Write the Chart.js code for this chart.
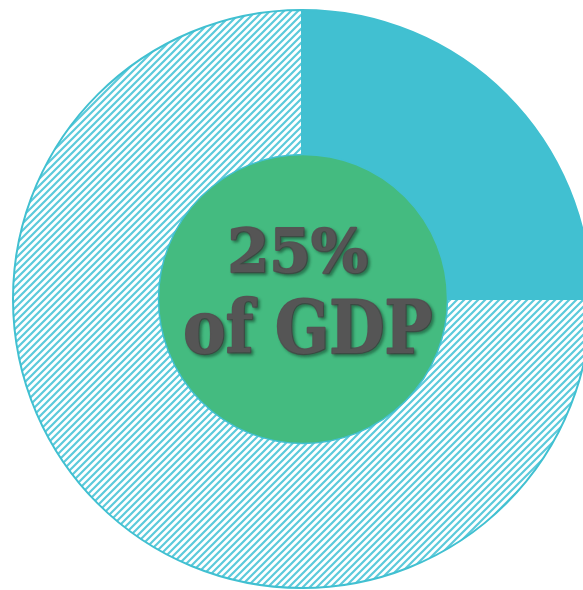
<!DOCTYPE html>
<html>
<head>
<meta charset="utf-8">
<script src="https://cdn.jsdelivr.net/npm/chart.js@4.4.1/dist/chart.umd.min.js"></script>
<style>
  html, body { margin: 0; padding: 0; background: #ffffff; overflow: hidden; }
  #wrap { position: absolute; left: 2px; top: -1px; width: 600px; height: 600px; }
</style>
</head>
<body>
<div id="wrap"><canvas id="gdp-chart" width="600" height="600"></canvas></div>
<script>
// share of GDP vs the rest
var sliceLabels = ["Share", "Rest"];
var sliceValues = [25, 75];
var centerLines = ["25%", "of GDP"];

var TEAL = "#41c0d1";
var GREEN = "#44bb80";

// diagonal hatch used for the remaining part of the pie
function makeHatch() {
  var s = 7;
  var tile = document.createElement("canvas");
  tile.width = s;
  tile.height = s;
  var c = tile.getContext("2d");
  c.fillStyle = "#ffffff";
  c.fillRect(0, 0, s, s);
  c.strokeStyle = "#5ccadb";
  c.lineWidth = 2.2;
  c.beginPath();
  c.moveTo(0, s); c.lineTo(s, 0);
  c.moveTo(-2, 2); c.lineTo(2, -2);
  c.moveTo(s - 2, s + 2); c.lineTo(s + 2, s - 2);
  c.stroke();
  return document.getElementById("gdp-chart").getContext("2d").createPattern(tile, "repeat");
}

// green disc in the middle with the headline text
var centerBadge = {
  id: "centerBadge",
  afterDatasetsDraw: function(chart) {
    var arc = chart.getDatasetMeta(0).data[0];
    var ctx = chart.ctx;
    var cx = arc.x, cy = arc.y;
    var r = arc.outerRadius * 0.5;
    ctx.save();
    ctx.beginPath();
    ctx.arc(cx + 1, cy, r, 0, Math.PI * 2);
    ctx.fillStyle = GREEN;
    ctx.fill();
    ctx.lineWidth = 1.5;
    ctx.strokeStyle = TEAL;
    ctx.stroke();

    ctx.fillStyle = "#555555";
    ctx.strokeStyle = "#555555";
    ctx.lineJoin = "round";
    ctx.lineWidth = 2.5;
    ctx.textAlign = "center";
    ctx.textBaseline = "alphabetic";
    ctx.shadowColor = "rgba(20, 60, 40, 0.45)";
    ctx.shadowOffsetX = 2;
    ctx.shadowOffsetY = 2;
    ctx.shadowBlur = 3;
    ctx.font = "bold 60px 'DejaVu Serif'";
    ctx.strokeText(sliceValues[0] + "%", cx - 4, cy - 27, 143);
    ctx.fillText(sliceValues[0] + "%", cx - 4, cy - 27, 143);
    ctx.font = "bold 72px 'DejaVu Serif'";
    ctx.strokeText(centerLines[1], cx + 6, cy + 54, 249);
    ctx.fillText(centerLines[1], cx + 6, cy + 54, 249);
    ctx.restore();
  }
};

new Chart("gdp-chart", {
  type: "pie",
  data: {
    labels: sliceLabels,
    datasets: [{
      data: sliceValues,
      backgroundColor: [TEAL, makeHatch()],
      borderColor: TEAL,
      borderWidth: 2
    }]
  },
  options: {
    responsive: false,
    animation: false,
    layout: { padding: 10 },
    plugins: {
      legend: { display: false },
      tooltip: { enabled: false }
    }
  },
  plugins: [centerBadge]
});
</script>
</body>
</html>
